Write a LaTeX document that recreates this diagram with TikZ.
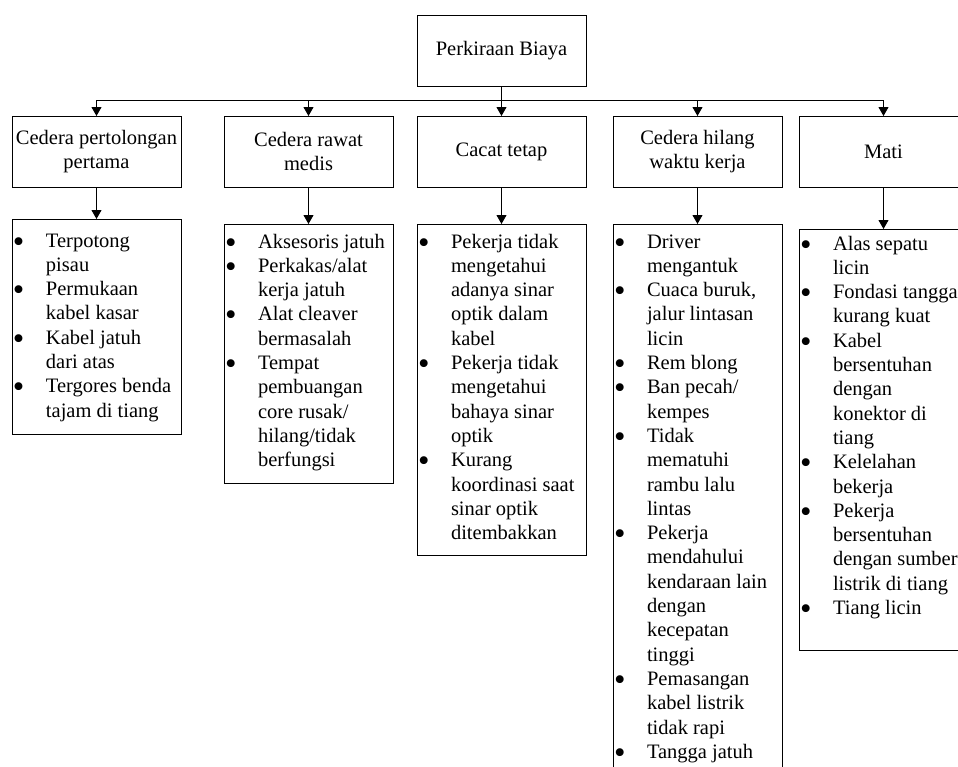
\documentclass[tikz,border=0pt]{standalone}
\usepackage{fontspec}
\setmainfont{Liberation Serif}
\usetikzlibrary{arrows.meta}
% bullet line and continuation line of a list
\newcommand{\bul}{\makebox[34pt][l]{\hspace*{1pt}\smash{\raisebox{-5pt}{\scalebox{1.6}{\textbullet}}}}}
\newcommand{\cont}{\hspace*{34pt}}
\tikzset{
  every node/.style={inner sep=0pt, outer sep=0pt},
  txt/.style={font=\fontsize{20.5}{24.3}\selectfont},
  topbox/.style={draw, line width=0.9pt, minimum width=169pt, minimum height=71pt, align=center, txt},
  listbox/.style={draw, line width=0.9pt, minimum width=169pt, anchor=north},
  listtext/.style={anchor=base west, txt},
  arr/.style={line width=0.9pt, -{Triangle[length=9pt,width=10pt]}},
}
\begin{document}
\begin{tikzpicture}[x=1pt,y=-1pt]
\useasboundingbox (0,0) rectangle (958,766);
\clip (0,0) rectangle (958,766);

% root and categories
\node[topbox] (root) at (501.5,50.5) {Perkiraan Biaya};
\node[topbox] (c1) at (96.5,151.5) {Cedera pertolongan\\pertama};
\node[topbox] (c2) at (308.5,151.5) {Cedera rawat\\medis};
\node[topbox] (c3) at (501.5,151.5) {Cacat tetap};
\node[topbox] (c4) at (697.5,151.5) {Cedera hilang\\waktu kerja};
\node[topbox] (c5) at (883.5,151.5) {Mati};

% list frames
\node[listbox, minimum height=215pt] (l1) at (96.5,219) {};
\node[listbox, minimum height=259pt] (l2) at (308.5,224) {};
\node[listbox, minimum height=331pt] (l3) at (501.5,224) {};
\node[listbox, minimum height=600pt] (l4) at (697.5,224) {};
\node[listbox, minimum height=421pt] (l5) at (883.5,229) {};

% list contents
\node[listtext] (t1) at (12,247) {\begin{tabular}[t]{@{}l@{}}
\bul Terpotong\\ \cont pisau\\
\bul Permukaan\\ \cont kabel kasar\\
\bul Kabel jatuh\\ \cont dari atas\\
\bul Tergores benda\\ \cont tajam di tiang
\end{tabular}};

\node[listtext] (t2) at (224,248) {\begin{tabular}[t]{@{}l@{}}
\bul Aksesoris jatuh\\
\bul Perkakas/alat\\ \cont kerja jatuh\\
\bul Alat cleaver\\ \cont bermasalah\\
\bul Tempat\\ \cont pembuangan\\ \cont core rusak/\\ \cont hilang/tidak\\ \cont berfungsi
\end{tabular}};

\node[listtext] (t3) at (417,248) {\begin{tabular}[t]{@{}l@{}}
\bul Pekerja tidak\\ \cont mengetahui\\ \cont adanya sinar\\ \cont optik dalam\\ \cont kabel\\
\bul Pekerja tidak\\ \cont mengetahui\\ \cont bahaya sinar\\ \cont optik\\
\bul Kurang\\ \cont koordinasi saat\\ \cont sinar optik\\ \cont ditembakkan
\end{tabular}};

\node[listtext] (t4) at (613,248) {\begin{tabular}[t]{@{}l@{}}
\bul Driver\\ \cont mengantuk\\
\bul Cuaca buruk,\\ \cont jalur lintasan\\ \cont licin\\
\bul Rem blong\\
\bul Ban pecah/\\ \cont kempes\\
\bul Tidak\\ \cont mematuhi\\ \cont rambu lalu\\ \cont lintas\\
\bul Pekerja\\ \cont mendahului\\ \cont kendaraan lain\\ \cont dengan\\ \cont kecepatan\\ \cont tinggi\\
\bul Pemasangan\\ \cont kabel listrik\\ \cont tidak rapi\\
\bul Tangga jatuh
\end{tabular}};

\node[listtext] (t5) at (799,250) {\begin{tabular}[t]{@{}l@{}}
\bul Alas sepatu\\ \cont licin\\
\bul Fondasi tangga\\ \cont kurang kuat\\
\bul Kabel\\ \cont bersentuhan\\ \cont dengan\\ \cont konektor di\\ \cont tiang\\
\bul Kelelahan\\ \cont bekerja\\
\bul Pekerja\\ \cont bersentuhan\\ \cont dengan sumber\\ \cont listrik di tiang\\
\bul Tiang licin
\end{tabular}};

% connectors
\draw[arr] (root.south) -- (c3.north);
\foreach \n in {c1,c2,c4,c5}
  \draw[arr] (root.south) -- ++(0,14) -| (\n.north);
\foreach \i in {1,...,5}
  \draw[arr] (c\i.south) -- (l\i.north);
\end{tikzpicture}
\end{document}
